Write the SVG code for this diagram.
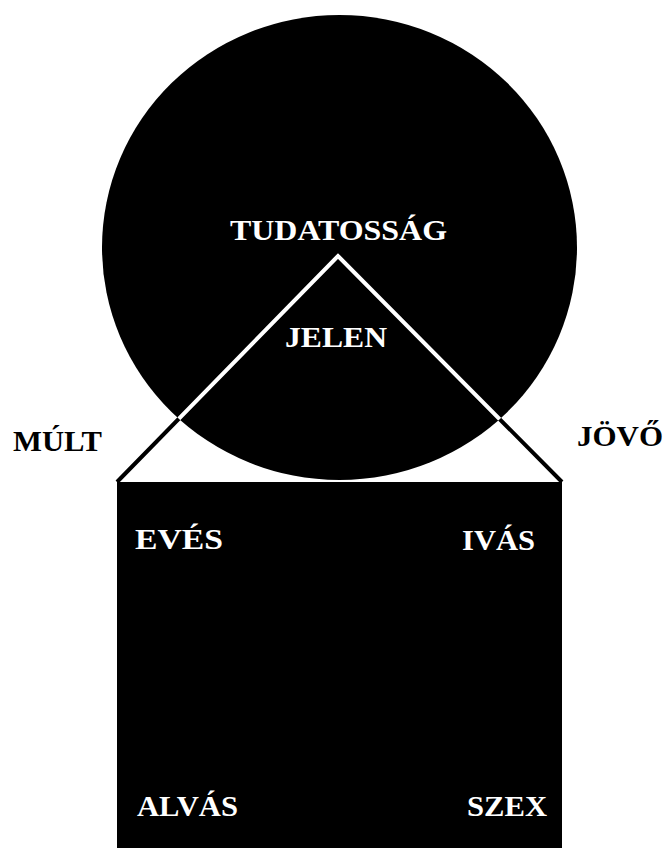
<svg xmlns="http://www.w3.org/2000/svg" width="666" height="848" viewBox="0 0 666 848">
<style>
.t{font-family:"Liberation Serif","Times New Roman",serif;font-weight:bold;font-size:30px}
.w{fill:#fff}
.k{fill:#000}
</style>
<defs>
<clipPath id="cc"><ellipse cx="339.5" cy="247.5" rx="237.5" ry="232.5"/></clipPath>
</defs>
<rect width="666" height="848" fill="#fff"/>
<g id="tudatossag">
<ellipse cx="339.5" cy="247.5" rx="237.5" ry="232.5" fill="#000"/>
<text class="t w" x="230" y="240" textLength="217" lengthAdjust="spacingAndGlyphs">TUDATOSSÁG</text>
</g>
<g id="elet">
<rect x="117" y="482" width="445" height="366" fill="#000"/>
<text class="t w" x="135" y="549" textLength="88" lengthAdjust="spacingAndGlyphs">EVÉS</text>
<text class="t w" x="462" y="550" textLength="73" lengthAdjust="spacingAndGlyphs">IVÁS</text>
<text class="t w" x="137" y="816" textLength="101" lengthAdjust="spacingAndGlyphs">ALVÁS</text>
<text class="t w" x="467" y="816" textLength="80" lengthAdjust="spacingAndGlyphs">SZEX</text>
</g>
<g id="jelen">
<text class="t w" x="285" y="347" textLength="102" lengthAdjust="spacingAndGlyphs">JELEN</text>
</g>
<g id="mult"><text class="t k" x="13" y="451" textLength="89" lengthAdjust="spacingAndGlyphs">MÚLT</text></g>
<g id="jovo"><text class="t k" x="577" y="446" textLength="86" lengthAdjust="spacingAndGlyphs">JÖVŐ</text></g>
<g id="connectors" fill="none" stroke-width="4" stroke-linejoin="miter">
<polyline points="117,482 338,256 562,482" stroke="#000"/>
<polyline points="117,482 338,256 562,482" stroke="#fff" clip-path="url(#cc)"/>
</g>
</svg>
